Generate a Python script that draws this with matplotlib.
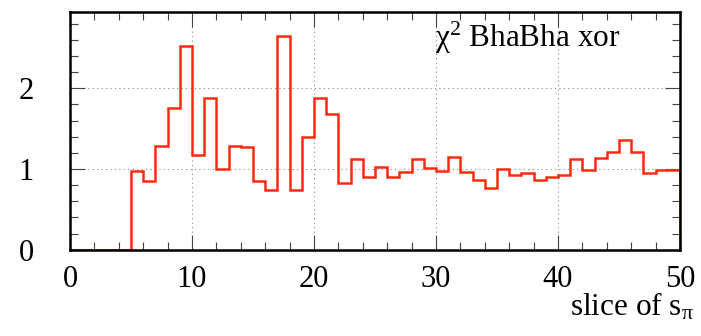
import matplotlib
matplotlib.use("Agg")
import matplotlib.pyplot as plt
from matplotlib.ticker import MultipleLocator
import numpy as np

# Data
bin_edges = list(range(0, 51))
chi2_values = [0, 0, 0, 0, 0, 0.97, 0.85, 1.29, 1.76, 2.52,
               1.17, 1.88, 1.00, 1.28, 1.27, 0.85, 0.74, 2.65, 0.74, 1.40,
               1.88, 1.68, 0.83, 1.12, 0.90, 1.03, 0.90, 0.96, 1.12, 1.01,
               0.975, 1.15, 0.96, 0.87, 0.77, 1.00, 0.92, 0.95, 0.87, 0.905,
               0.93, 1.12, 0.99, 1.14, 1.21, 1.36, 1.21, 0.955, 0.99, 0.99]
x_ticks = [0, 10, 20, 30, 40, 50]
y_ticks = [0, 1, 2]
title_text = r"χ$^{2}$ BhaBha xor"
xlabel_text = r"slice of s$_{\mathrm{π}}$"

plt.rcParams['font.family'] = ['Liberation Serif', 'DejaVu Serif']
plt.rcParams['mathtext.fontset'] = 'custom'
plt.rcParams['mathtext.rm'] = 'Liberation Serif'
plt.rcParams['mathtext.it'] = 'Liberation Serif'

fig = plt.figure(figsize=(7.01, 3.36), dpi=100)
ax = fig.add_axes([70/701, 1-249.7/336, 610/701, 238/336])

ax.stairs(chi2_values, bin_edges, baseline=0, fill=False, color='#ff2a10', lw=1.8, zorder=3)

ax.set_xlim(0, 50)
ax.set_ylim(0, 2.95)
ax.set_xticks(x_ticks)
ax.set_yticks(y_ticks)
ax.xaxis.set_minor_locator(MultipleLocator(2))
ax.yaxis.set_minor_locator(MultipleLocator(0.2))
ax.tick_params(which='both', direction='in', top=True, right=True, width=0.8, color='#444444')
ax.tick_params(which='major', length=11)
ax.tick_params(which='minor', length=5.5)
ax.tick_params(axis='x', which='major', labelsize=22, pad=11)
ax.tick_params(axis='y', which='major', labelsize=22, pad=26)
ax.grid(True, which='major', linestyle=(0, (1, 3)), color='#888888', lw=0.8)
for s in ax.spines.values():
    s.set_linewidth(1.8)
    s.set_zorder(4)

fig.text(435/701, 1-47/336, title_text, fontsize=22.5, ha='left', va='baseline')
fig.text(694/701, 1-316/336, xlabel_text, fontsize=22.5, ha='right', va='baseline')

fig.savefig("out.png", dpi=100)
